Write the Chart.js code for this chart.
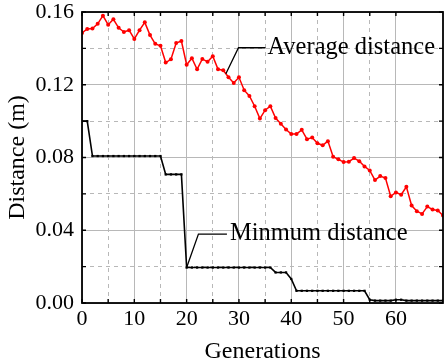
<!DOCTYPE html>
<html>
<head>
<meta charset="utf-8">
<script src="https://cdn.jsdelivr.net/npm/chart.js@4.4.1/dist/chart.umd.min.js"></script>
<style>
  html, body { margin: 0; padding: 0; background: #fff; }
  #wrap { width: 447px; height: 362px; }
</style>
</head>
<body>
<div id="wrap"><canvas id="myChart" width="447" height="362"></canvas></div>
<script>
var generations = [
  0, 1, 2, 3, 4, 5, 6, 7, 8, 9, 10, 11, 12, 13, 14, 15, 16, 17, 18, 19,
  20, 21, 22, 23, 24, 25, 26, 27, 28, 29, 30, 31, 32, 33, 34, 35, 36, 37, 38, 39,
  40, 41, 42, 43, 44, 45, 46, 47, 48, 49, 50, 51, 52, 53, 54, 55, 56, 57, 58, 59,
  60, 61, 62, 63, 64, 65, 66, 67, 68, 69
];

var averageDistance = [
  0.1485, 0.1507, 0.1509, 0.1535, 0.158, 0.153, 0.156, 0.1513, 0.149, 0.150,
  0.1452, 0.150, 0.1543, 0.1473, 0.1425, 0.1414, 0.1322, 0.134, 0.1429, 0.144,
  0.131, 0.1346, 0.1285, 0.1342, 0.1326, 0.1357, 0.1285, 0.128, 0.1241, 0.121,
  0.1241, 0.117, 0.1138, 0.1082, 0.1014, 0.106, 0.1082, 0.1017, 0.0986, 0.0954,
  0.0929, 0.0929, 0.0952, 0.0901, 0.091, 0.0878, 0.0867, 0.089, 0.0804, 0.079,
  0.0775, 0.0777, 0.0797, 0.078, 0.0751, 0.0729, 0.0676, 0.0698, 0.0687, 0.0587,
  0.0608, 0.0595, 0.0639, 0.0536, 0.0505, 0.049, 0.053, 0.0514, 0.0509, 0.0481
];

var minimumDistance = [
  0.1, 0.1, 0.0808, 0.0808, 0.0808, 0.0808, 0.0808, 0.0808, 0.0808, 0.0808,
  0.0808, 0.0808, 0.0808, 0.0808, 0.0808, 0.0808, 0.0707, 0.0707, 0.0707, 0.0707,
  0.0195, 0.0195, 0.0195, 0.0195, 0.0195, 0.0195, 0.0195, 0.0195, 0.0195, 0.0195,
  0.0195, 0.0195, 0.0195, 0.0195, 0.0195, 0.0195, 0.0195, 0.0168, 0.0168, 0.0168,
  0.0132, 0.0067, 0.0067, 0.0067, 0.0067, 0.0067, 0.0067, 0.0067, 0.0067, 0.0067,
  0.0067, 0.0067, 0.0067, 0.0067, 0.0067, 0.0018, 0.0013, 0.0013, 0.0013, 0.0013,
  0.0018, 0.0018, 0.0013, 0.0013, 0.0013, 0.0013, 0.0013, 0.0013, 0.0013, 0.0013
];

var xTickLabels = ["0", "10", "20", "30", "40", "50", "60"];
var yTickLabels = ["0.00", "0.04", "0.08", "0.12", "0.16"];

var SERIF = "'Liberation Serif', 'Times New Roman', serif";
var GRID = "#b8b8b8";

function onStep(v, step) {
  return Math.abs(v / step - Math.round(v / step)) < 1e-6;
}

function gridDash(step) {
  return function (ctx) {
    if (!ctx.tick) return [];
    return onStep(ctx.tick.value, step) ? [] : [4, 4];
  };
}

// callout lines + labels, anchored on a series point
var callouts = [
  { text: "Average distance", series: 0, at: 27.5, dx: 12.6, dy: -26, len: 27, gap: 2, base: 6.6 },
  { text: "Minmum distance", series: 1, at: 20, dx: 11.8, dy: -33.4, len: 28.5, gap: 3, base: 5.5 }
];

function valueAt(arr, g) {
  var i = Math.floor(g), f = g - i;
  if (f === 0 || i + 1 >= arr.length) return arr[i];
  return arr[i] + (arr[i + 1] - arr[i]) * f;
}

var framePlugin = {
  id: "frame",
  afterDatasetsDraw: function (chart) {
    var c = chart.ctx, a = chart.chartArea;
    var xs = chart.scales.x, ys = chart.scales.y;
    c.save();
    c.strokeStyle = "#000";
    c.lineWidth = 1.8;
    c.strokeRect(a.left, a.top, a.right - a.left, a.bottom - a.top);

    c.lineWidth = 1.4;
    c.beginPath();
    xs.ticks.forEach(function (t) {
      var px = xs.getPixelForValue(t.value);
      c.moveTo(px, a.bottom); c.lineTo(px, a.bottom - 4);
      c.moveTo(px, a.top); c.lineTo(px, a.top + 4);
    });
    ys.ticks.forEach(function (t) {
      var py = ys.getPixelForValue(t.value);
      c.moveTo(a.left, py); c.lineTo(a.left + 4, py);
      c.moveTo(a.right, py); c.lineTo(a.right - 4, py);
    });
    c.stroke();

    // callouts
    var series = [averageDistance, minimumDistance];
    c.font = "24.5px " + SERIF;
    c.fillStyle = "#000";
    c.textBaseline = "alphabetic";
    c.textAlign = "left";
    callouts.forEach(function (n) {
      var x0 = xs.getPixelForValue(n.at);
      var y0 = ys.getPixelForValue(valueAt(series[n.series], n.at));
      var x1 = x0 + n.dx, y1 = y0 + n.dy;
      c.lineWidth = 1.3;
      c.beginPath();
      c.moveTo(x0, y0); c.lineTo(x1, y1); c.lineTo(x1 + n.len, y1);
      c.stroke();
      c.fillText(n.text, x1 + n.len + n.gap, y1 + n.base);
    });
    c.restore();
  }
};

var ctx = document.getElementById("myChart");

new Chart(ctx, {
  type: "line",
  data: {
    labels: generations,
    datasets: [
      {
        label: "Average distance",
        data: averageDistance,
        borderColor: "#ff0000",
        backgroundColor: "#ff0000",
        borderWidth: 1.5,
        pointRadius: 2,
        pointBorderWidth: 0,
        tension: 0
      },
      {
        label: "Minmum distance",
        data: minimumDistance,
        borderColor: "#000",
        backgroundColor: "#000",
        borderWidth: 1.6,
        pointStyle: "rect",
        pointRadius: 1.6,
        pointBorderWidth: 0,
        tension: 0
      }
    ]
  },
  options: {
    responsive: false,
    animation: false,
    devicePixelRatio: 1,
    layout: { padding: { top: 12, right: 2, left: 0, bottom: 0 } },
    plugins: {
      legend: { display: false },
      tooltip: { enabled: false }
    },
    scales: {
      x: {
        type: "linear",
        min: 0,
        max: 69,
        afterFit: function (s) {
          s.height = 59;
          s.paddingLeft = 0;
          s.paddingRight = 0;
        },
        afterBuildTicks: function (s) {
          s.ticks = s.ticks.filter(function (t) { return onStep(t.value, 5); });
        },
        ticks: {
          stepSize: 5,
          autoSkip: false,
          maxRotation: 0,
          padding: 5,
          color: "#000",
          font: { family: SERIF, size: 22, lineHeight: 1 },
          callback: function (v) {
            if (!onStep(v, 10)) return "";
            return xTickLabels[Math.round(v / 10)] || "";
          }
        },
        grid: { color: GRID, lineWidth: 1, drawTicks: false },
        border: { display: false, dash: gridDash(10) },
        title: {
          display: true,
          text: "Generations",
          color: "#000",
          padding: { top: 0, bottom: 0 },
          font: { family: SERIF, size: 24, lineHeight: 0.88 }
        }
      },
      y: {
        min: 0,
        max: 0.16,
        afterFit: function (s) {
          s.width = 82;
          s.paddingTop = 0;
          s.paddingBottom = 0;
        },
        ticks: {
          stepSize: 0.02,
          autoSkip: false,
          padding: 8,
          color: "#000",
          font: { family: SERIF, size: 22, lineHeight: 1 },
          callback: function (v) {
            if (!onStep(v, 0.04)) return "";
            return yTickLabels[Math.round(v / 0.04)] || "";
          }
        },
        grid: { color: GRID, lineWidth: 1, drawTicks: false },
        border: { display: false, dash: gridDash(0.04) },
        title: {
          display: true,
          text: "Distance (m)",
          color: "#000",
          padding: { top: 3, bottom: 0 },
          font: { family: SERIF, size: 24, lineHeight: 1.2 }
        }
      }
    }
  },
  plugins: [framePlugin]
});
</script>
</body>
</html>
